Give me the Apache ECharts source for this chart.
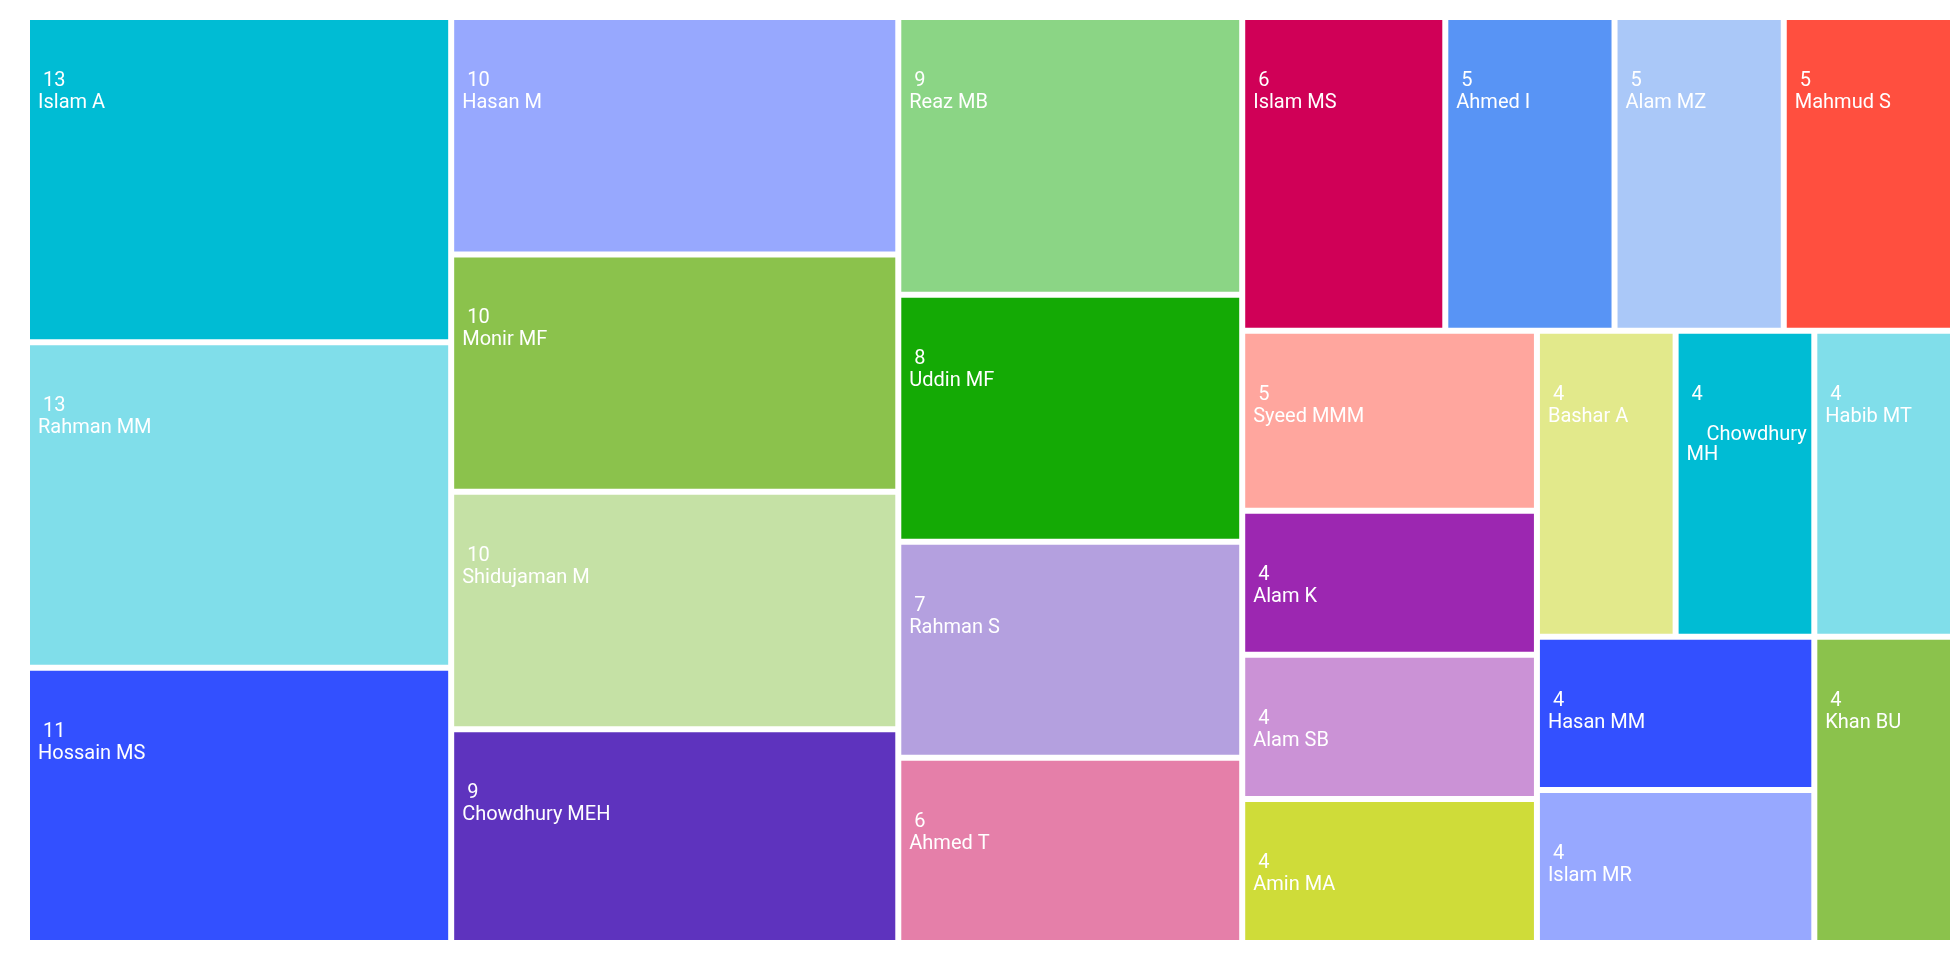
<!DOCTYPE html>
<html>
<head>
<meta charset="utf-8">
<script src="https://cdn.jsdelivr.net/npm/echarts@6/dist/echarts.min.js"></script>
<style>
html,body{margin:0;padding:0;background:#fff;}
#chart{width:1960px;height:960px;}
</style>
</head>
<body>
<div id="chart"></div>
<script>
const names = ['Islam A','Rahman MM','Hossain MS','Hasan M','Monir MF','Shidujaman M','Chowdhury MEH','Reaz MB','Uddin MF','Rahman S','Ahmed T','Islam MS','Ahmed I','Alam MZ','Mahmud S','Syeed MMM','Alam K','Alam SB','Amin MA','Bashar A','Chowdhury MH','Habib MT','Hasan MM','Islam MR','Khan BU'];
const values = [13,13,11,10,10,10,9,9,8,7,6,6,5,5,5,5,4,4,4,4,4,4,4,4,4];
const colors = ['#00BCD4','#80DEEA','#3350FF','#97A8FE','#8BC24C','#C5E1A5','#5E33BE','#8BD585','#14AA05','#B4A0DF','#E57FA9','#D00057','#5894F5','#AAC8F8','#FF4F3F','#FFA69E','#9C27B1','#CB92D6','#CFDC39','#E2E98B','#00BCD4','#80DEEA','#3350FF','#97A8FF','#8BC24C'];
const wrappedNames = {'Chowdhury MH': '\n    Chowdhury\nMH'};

// ECharts breaks value ties by descending data index, so feed items in reverse order
const data = names.map((n, i) => {
  const item = {
    name: n,
    value: values[i],
    itemStyle: { color: colors[i] }
  };
  if (wrappedNames[n]) {
    item.label = { lineHeight: 20, padding: [51, 5, 5, 8] };
  }
  return item;
}).reverse();

const chart = echarts.init(document.getElementById('chart'), null, {renderer: 'canvas'});
chart.setOption({
  animation: false,
  series: [{
    type: 'treemap',
    left: 30, top: 20, right: 10, bottom: 20,
    roam: false,
    nodeClick: false,
    breadcrumb: { show: false },
    levels: [{ itemStyle: { gapWidth: 6, borderWidth: 0, borderColor: '#fff' } }],
    itemStyle: { borderWidth: 0, gapWidth: 6 },
    label: {
      show: true,
      position: 'insideTopLeft',
      color: '#fff',
      fontFamily: 'Roboto',
      fontSize: 20,
      lineHeight: 22,
      padding: [50, 5, 5, 8],
      overflow: 'none',
      formatter: p => ' ' + p.value + '\n' + (wrappedNames[p.name] || p.name)
    },
    upperLabel: { show: false },
    data: data
  }]
});
</script>
</body>
</html>
